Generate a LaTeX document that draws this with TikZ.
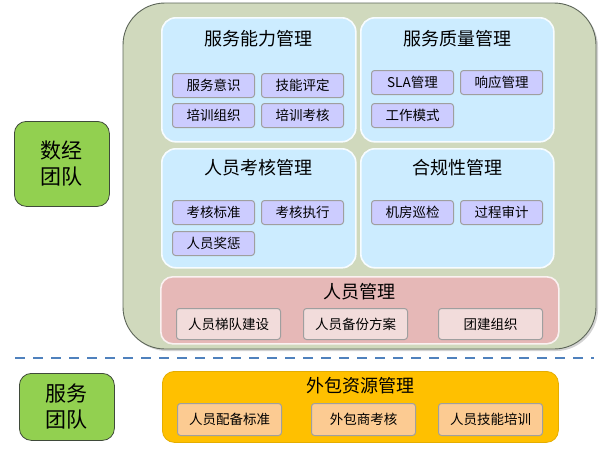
\documentclass[tikz,border=0pt]{standalone}
\usepackage{fontspec}
\setmainfont{Noto Sans CJK SC}
\usepackage{xcolor}
\usetikzlibrary{positioning,shadows}
\definecolor{TeamGreen}{HTML}{92D050}
\definecolor{CoreOlive}{HTML}{D0D9BD}
\definecolor{PanelBlue}{HTML}{CCECFF}
\definecolor{ItemPurple}{HTML}{CCCCFF}
\definecolor{StaffRed}{HTML}{E6B8B7}
\definecolor{StaffPink}{HTML}{F2DCDB}
\definecolor{OutOrange}{HTML}{FFC000}
\definecolor{OutPeach}{HTML}{FCCB92}
\definecolor{LineBlue}{HTML}{4F81BD}
\definecolor{EdgeDark}{HTML}{3F4A3A}
\tikzset{
  teambox/.style={draw=EdgeDark,line width=0.8pt,fill=TeamGreen,rounded corners=12pt,align=center,inner sep=0pt,font=\fontsize{21}{26}\selectfont,minimum width=95pt},
  corebox/.style={draw=EdgeDark!85,line width=0.9pt,fill=CoreOlive,rounded corners=42pt,drop shadow={shadow xshift=2pt,shadow yshift=-2pt,opacity=0.35}},
  panelbox/.style={draw=white!85!PanelBlue,line width=1.6pt,fill=PanelBlue,rounded corners=14pt,anchor=north west,inner sep=0pt},
  paneltitle/.style={font=\fontsize{18}{21}\selectfont,inner sep=0pt},
  itembox/.style={draw=gray!75,line width=1pt,fill=ItemPurple,rounded corners=3pt,anchor=north west,inner sep=0pt,minimum width=82pt,minimum height=24pt,font=\fontsize{13.5}{15}\selectfont},
  staffitem/.style={itembox,fill=StaffPink,minimum width=104pt,minimum height=31pt},
  outitem/.style={itembox,fill=OutPeach,minimum width=104pt,minimum height=32pt},
  divider/.style={draw=LineBlue,line width=2.6pt,dash pattern=on 10pt off 8pt}
}

\begin{document}
\begin{tikzpicture}[x=1pt,y=-1pt]
\useasboundingbox (0,0) rectangle (600,448);
% teams
\node[teambox,minimum height=85pt,anchor=north west] (shujing) at (14,121) {数经\\团队};
\node[teambox,minimum height=67pt,anchor=north west] (fuwu) at (19,373) {服务\\团队};
% core area
\path[corebox] (123,3) rectangle (596,349);
\node[panelbox,minimum width=194pt,minimum height=124pt] (ability) at (161,17) {};
\node[panelbox,minimum width=193pt,minimum height=124pt] (quality) at (360,17) {};
\node[panelbox,minimum width=194pt,minimum height=119pt] (assess) at (161,148) {};
\node[panelbox,minimum width=193pt,minimum height=119pt] (comply) at (360,148) {};
\node[paneltitle,below=13pt of ability.north] (abilityT) {服务能力管理};
\node[paneltitle,below=13pt of quality.north] (qualityT) {服务质量管理};
\node[paneltitle,below=11pt of assess.north] (assessT) {人员考核管理};
\node[paneltitle,below=11pt of comply.north] (complyT) {合规性管理};
% ability items
\node[itembox] (yishi) at (172,73) {服务意识};
\node[itembox] (pingding) at (261,73) {技能评定};
\node[itembox] (zuzhi) at (172,103) {培训组织};
\node[itembox] (kaohe) at (261,103) {培训考核};
% quality items
\node[itembox] (sla) at (371,70) {SLA管理};
\node[itembox] (xiangying) at (460,70) {响应管理};
\node[itembox] (moshi) at (371,103) {工作模式};
% assessment items
\node[itembox] (biaozhun) at (172,200) {考核标准};
\node[itembox] (zhixing) at (261,200) {考核执行};
\node[itembox] (jiangcheng) at (172,231) {人员奖惩};
% compliance items
\node[itembox] (xunjian) at (371,200) {机房巡检};
\node[itembox] (shenji) at (460,200) {过程审计};
% staff management
\node[panelbox,fill=StaffRed,draw=white!80!StaffRed,rounded corners=12pt,minimum width=398pt,minimum height=67pt] (staff) at (160,276) {};
\node[paneltitle,below=7pt of staff.north] (staffT) {人员管理};
\node[staffitem] (tidui) at (176,308) {人员梯队建设};
\node[staffitem] (beifen) at (303,308) {人员备份方案};
\node[staffitem] (tuanjian) at (438,308) {团建组织};
% divider
\coordinate (lineL) at (15,358);
\coordinate (lineR) at (594,358);
\draw[divider] (lineL) -- (lineR);
% outsourcing
\node[panelbox,fill=OutOrange,draw=OutOrange!90!black,line width=0.8pt,rounded corners=12pt,minimum width=396pt,minimum height=71pt] (outsrc) at (162,371) {};
\node[paneltitle,below=6pt of outsrc.north] (outsrcT) {外包资源管理};
\node[outitem] (peibei) at (177,403) {人员配备标准};
\node[outitem] (waibao) at (311,403) {外包商考核};
\node[outitem] (jineng) at (438,403) {人员技能培训};
\end{tikzpicture}
\end{document}
